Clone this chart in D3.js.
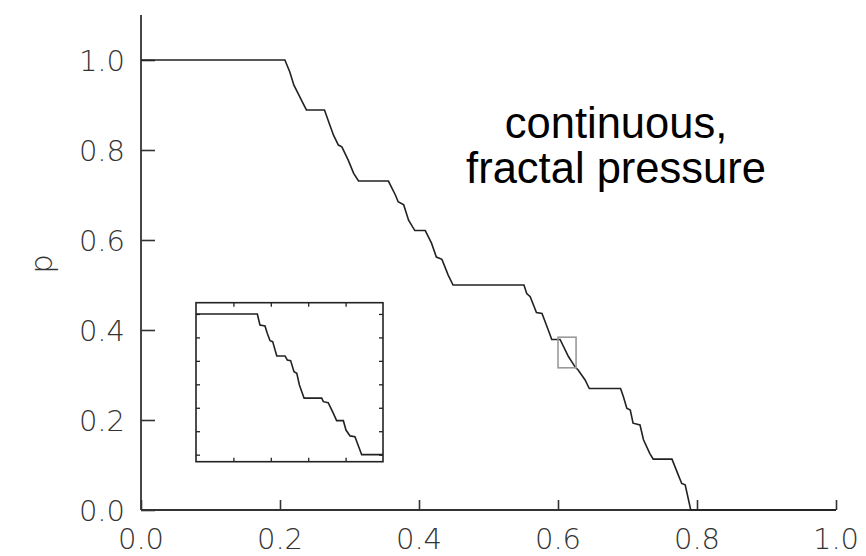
<!DOCTYPE html>
<html>
<head>
<meta charset="utf-8">
<script src="https://cdn.jsdelivr.net/npm/d3@7"></script>
<style>
  body { margin: 0; background: #fff; }
  svg { display: block; }
  .tick-label { font-family: "DejaVu Sans", sans-serif; font-weight: 200; font-size: 29px; fill: #333; }
  .note { font-family: "Liberation Sans", Arial, sans-serif; font-size: 43.5px; fill: #000; }
</style>
</head>
<body>
<script>
// main curve: x position, pressure p
let curveX = [0, 0.207, 0.214, 0.220, 0.226, 0.233, 0.238, 0.264, 0.270, 0.277, 0.284, 0.289, 0.298, 0.306, 0.313, 0.356,
  0.366, 0.370, 0.378, 0.385, 0.394, 0.409, 0.418, 0.425, 0.433, 0.442, 0.449, 0.551,
  0.555, 0.560, 0.569, 0.577, 0.586, 0.591, 0.603, 0.615, 0.625, 0.629, 0.639, 0.645, 0.690,
  0.694, 0.699, 0.704, 0.708, 0.718, 0.723, 0.732, 0.737, 0.764, 0.773, 0.778, 0.783, 0.791, 1.0];
let curveP = [1.0, 1.0, 0.974, 0.944, 0.926, 0.904, 0.889, 0.889, 0.863, 0.833, 0.811, 0.807, 0.778, 0.748, 0.731, 0.731,
  0.700, 0.685, 0.678, 0.644, 0.621, 0.621, 0.593, 0.562, 0.557, 0.522, 0.500, 0.500,
  0.481, 0.474, 0.439, 0.437, 0.400, 0.379, 0.379, 0.341, 0.317, 0.311, 0.289, 0.270, 0.270,
  0.252, 0.226, 0.222, 0.193, 0.189, 0.156, 0.126, 0.113, 0.113, 0.078, 0.059, 0.056, 0.0, 0.0];

// blow-up shown in the inset (inset units)
let insetX = [0, 0.328, 0.342, 0.369, 0.381, 0.396, 0.410, 0.432, 0.476, 0.488, 0.506, 0.524, 0.539, 0.553, 0.578,
  0.672, 0.681, 0.707, 0.734, 0.752, 0.788, 0.802, 0.824, 0.850, 0.886, 1.0];
let insetY = [6.0, 6.0, 5.53, 5.49, 5.18, 4.86, 4.82, 4.21, 4.21, 4.04, 4.01, 3.54, 3.47, 2.97, 2.41,
  2.41, 2.26, 2.22, 1.77, 1.45, 1.45, 1.05, 0.80, 0.77, 0.0, 0.0];

// region of the main curve that the inset magnifies: x0, x1, p0, p1
let zoomBox = [0.600, 0.626, 0.316, 0.384];

let xTicks = [0, 0.2, 0.4, 0.6, 0.8, 1.0];
let yTicks = [0, 0.2, 0.4, 0.6, 0.8, 1.0];
let insetXTicks = [0.2, 0.4, 0.6, 0.8];
let insetYTicks = [0, 1, 2, 3, 4, 5, 6];
let noteLines = ["continuous,", "fractal pressure"];

let width = 866, height = 556;

let svg = d3.select("body").append("svg")
    .attr("width", width)
    .attr("height", height);

let x = d3.scaleLinear().domain([0, 1]).range([141, 836]);
let y = d3.scaleLinear().domain([0, 1.1]).range([510, 15]);

// axes: y ticks point inward (right), x ticks point up
svg.append("g")
    .attr("transform", "translate(" + x(0) + ",0)")
    .call(d3.axisRight(y).tickValues(yTicks).tickSize(14).tickFormat(""));
svg.append("g")
    .attr("transform", "translate(0," + y(0) + ")")
    .call(d3.axisTop(x).tickValues(xTicks).tickSize(10).tickFormat(""));

svg.selectAll(".tick line")
    .attr("stroke", "#333")
    .attr("stroke-width", 1.6);
svg.selectAll(".domain").remove();

// plain axis lines
svg.append("line")
    .attr("x1", x(0)).attr("x2", x(0))
    .attr("y1", y(1.1)).attr("y2", y(0))
    .attr("stroke", "#333").attr("stroke-width", 1.8);
svg.append("line")
    .attr("x1", x(0)).attr("x2", x(1))
    .attr("y1", y(0)).attr("y2", y(0))
    .attr("stroke", "#333").attr("stroke-width", 1.8);

svg.selectAll(".ylab")
  .data(yTicks)
  .enter().append("text")
    .attr("class", "tick-label")
    .attr("x", 125)
    .attr("y", function(d) { return y(d) + 1; })
    .attr("dy", "0.36em")
    .attr("text-anchor", "end")
    .text(d3.format(".1f"));

svg.selectAll(".xlab")
  .data(xTicks)
  .enter().append("text")
    .attr("class", "tick-label")
    .attr("x", function(d) { return x(d); })
    .attr("y", 549)
    .attr("text-anchor", "middle")
    .text(d3.format(".1f"));

svg.append("text")
    .attr("class", "tick-label")
    .attr("transform", "translate(52,264) rotate(-90)")
    .attr("text-anchor", "middle")
    .style("font-size", "31px")
    .text("p");

// main staircase
let line = d3.line()
  .x(function(d) { return x(d[0]); })
  .y(function(d) { return y(d[1]); });

svg.append("path")
    .datum(d3.zip(curveX, curveP))
    .attr("fill", "none")
    .attr("stroke", "#222")
    .attr("stroke-width", 1.6)
    .attr("d", line);

// grey box marking the magnified piece
svg.append("rect")
    .attr("x", x(zoomBox[0]))
    .attr("y", y(zoomBox[3]))
    .attr("width", x(zoomBox[1]) - x(zoomBox[0]))
    .attr("height", y(zoomBox[2]) - y(zoomBox[3]))
    .attr("fill", "none")
    .attr("stroke", "#999")
    .attr("stroke-width", 1.6);

// note
svg.selectAll(".note")
  .data(noteLines)
  .enter().append("text")
    .attr("class", "note")
    .attr("x", 616)
    .attr("y", function(d, i) { return 138 + i * 44.5; })
    .attr("text-anchor", "middle")
    .text(function(d) { return d; });

// inset
let ix = d3.scaleLinear().domain([0, 1]).range([196, 383]);
let iy = d3.scaleLinear().domain([-0.3, 6.48]).range([461.7, 302.7]);
let inset = svg.append("g");

inset.append("rect")
    .attr("x", ix(0)).attr("y", iy(6.48))
    .attr("width", ix(1) - ix(0))
    .attr("height", iy(-0.3) - iy(6.48))
    .attr("fill", "#fff")
    .attr("stroke", "#222")
    .attr("stroke-width", 1.6);

inset.append("g")
    .attr("transform", "translate(0," + iy(6.48) + ")")
    .call(d3.axisBottom(ix).tickValues(insetXTicks).tickSize(4).tickFormat(""));
inset.append("g")
    .attr("transform", "translate(0," + iy(-0.3) + ")")
    .call(d3.axisTop(ix).tickValues(insetXTicks).tickSize(4).tickFormat(""));
inset.append("g")
    .attr("transform", "translate(" + ix(0) + ",0)")
    .call(d3.axisRight(iy).tickValues(insetYTicks).tickSize(4).tickFormat(""));
inset.append("g")
    .attr("transform", "translate(" + ix(1) + ",0)")
    .call(d3.axisLeft(iy).tickValues(insetYTicks).tickSize(4).tickFormat(""));

inset.selectAll(".domain").remove();
inset.selectAll(".tick line").attr("stroke", "#222").attr("stroke-width", 1.3);

let insetLine = d3.line()
  .x(function(d) { return ix(d[0]); })
  .y(function(d) { return iy(d[1]); });

inset.append("path")
    .datum(d3.zip(insetX, insetY))
    .attr("fill", "none")
    .attr("stroke", "#222")
    .attr("stroke-width", 1.6)
    .attr("d", insetLine);
</script>
</body>
</html>
